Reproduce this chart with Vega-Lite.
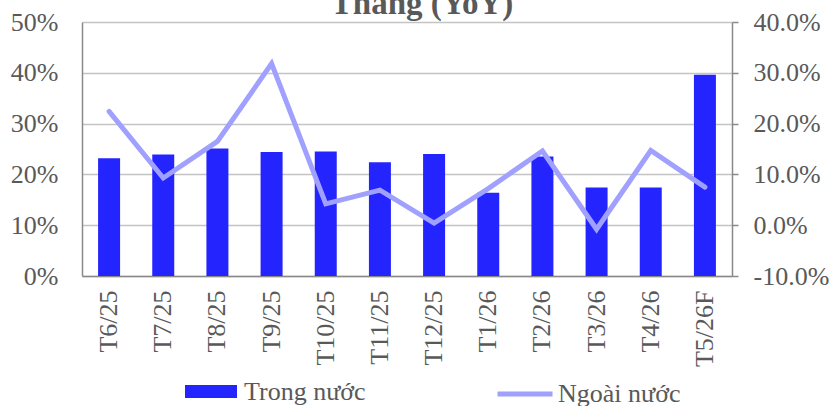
{
  "$schema": "https://vega.github.io/schema/vega-lite/v6.json",
  "width": 650,
  "height": 254,
  "autosize": {"type": "none"},
  "padding": {"left": 82, "top": 22, "right": 100, "bottom": 130},
  "background": "white",
  "config": {"view": {"stroke": null}, "font": "Liberation Serif"},
  "title": {"text": "Tháng (YoY)", "fontSize": 33, "fontWeight": "bold", "color": "#595959", "font": "Liberation Serif", "anchor": "middle", "dx": 15, "baseline": "top", "offset": -12},
  "data": {"values": [
    {"thang": "T6/25", "trong": 0.232, "ngoai": 0.224},
    {"thang": "T7/25", "trong": 0.239, "ngoai": 0.093},
    {"thang": "T8/25", "trong": 0.251, "ngoai": 0.165},
    {"thang": "T9/25", "trong": 0.244, "ngoai": 0.318},
    {"thang": "T10/25", "trong": 0.245, "ngoai": 0.042},
    {"thang": "T11/25", "trong": 0.224, "ngoai": 0.069},
    {"thang": "T12/25", "trong": 0.240, "ngoai": 0.004},
    {"thang": "T1/26", "trong": 0.164, "ngoai": 0.072},
    {"thang": "T2/26", "trong": 0.235, "ngoai": 0.146},
    {"thang": "T3/26", "trong": 0.174, "ngoai": -0.008},
    {"thang": "T4/26", "trong": 0.174, "ngoai": 0.147},
    {"thang": "T5/26F", "trong": 0.396, "ngoai": 0.075}
  ]},
  "encoding": {
    "x": {"field": "thang", "type": "nominal", "sort": null,
      "scale": {"paddingInner": 0.594, "paddingOuter": 0.297},
      "axis": {"title": null, "labelAngle": -90, "labelFontSize": 26, "labelColor": "#595959", "labelFont": "Liberation Serif", "ticks": false, "domainColor": "#898989", "domainWidth": 1.5, "labelPadding": 14}}
  },
  "layer": [
    {
      "mark": {"type": "bar", "color": "#2424FF"},
      "encoding": {
        "y": {"field": "trong", "type": "quantitative", "scale": {"domain": [0, 0.5]},
          "axis": {"title": null, "values": [0, 0.1, 0.2, 0.3, 0.4, 0.5], "format": ".0%", "labelFontSize": 26, "labelColor": "#595959", "labelFont": "Liberation Serif", "ticks": false, "labelPadding": 24, "domainColor": "#898989", "domainWidth": 1.5, "grid": true, "gridColor": "#C4C4C4", "gridWidth": 1.3}},
        "fill": {"datum": "Trong nước", "type": "nominal", "scale": {"range": ["#2424FF"]},
          "legend": {"title": null, "orient": "none", "legendX": 103, "legendY": 343.5, "padding": 0, "symbolType": "M-1,-0.25H1V0.25H-1Z", "symbolSize": 2704, "symbolStrokeWidth": 0, "labelFontSize": 26, "labelColor": "#595959", "labelFont": "Liberation Serif", "labelOffset": 7}}
      }
    },
    {
      "mark": {"type": "line", "strokeWidth": 5, "color": "#A0A0FF", "strokeCap": "round"},
      "encoding": {
        "x": {"field": "thang", "type": "nominal", "sort": null, "bandPosition": 0.5},
        "y": {"field": "ngoai", "type": "quantitative", "scale": {"domain": [-0.1, 0.4]},
          "axis": {"title": null, "orient": "right", "values": [-0.1, 0, 0.1, 0.2, 0.3, 0.4], "labelExpr": "datum.value < 0 ? '-' + format(-datum.value, '.1%') : format(datum.value, '.1%')", "labelFontSize": 26, "labelColor": "#595959", "labelFont": "Liberation Serif", "ticks": true, "tickSize": 6, "tickColor": "#898989", "tickWidth": 1.5, "labelPadding": 15, "domainColor": "#898989", "domainWidth": 1.5, "grid": false}},
        "stroke": {"datum": "Ngoài nước", "type": "nominal", "scale": {"range": ["#A0A0FF"]},
          "legend": {"title": null, "orient": "none", "legendX": 413, "legendY": 342, "padding": 0, "symbolType": "stroke", "symbolSize": 3025, "symbolStrokeWidth": 5, "labelFontSize": 26, "labelColor": "#595959", "labelFont": "Liberation Serif", "labelOffset": 3}}
      }
    }
  ],
  "resolve": {"scale": {"y": "independent", "fill": "independent", "stroke": "independent"}}
}
